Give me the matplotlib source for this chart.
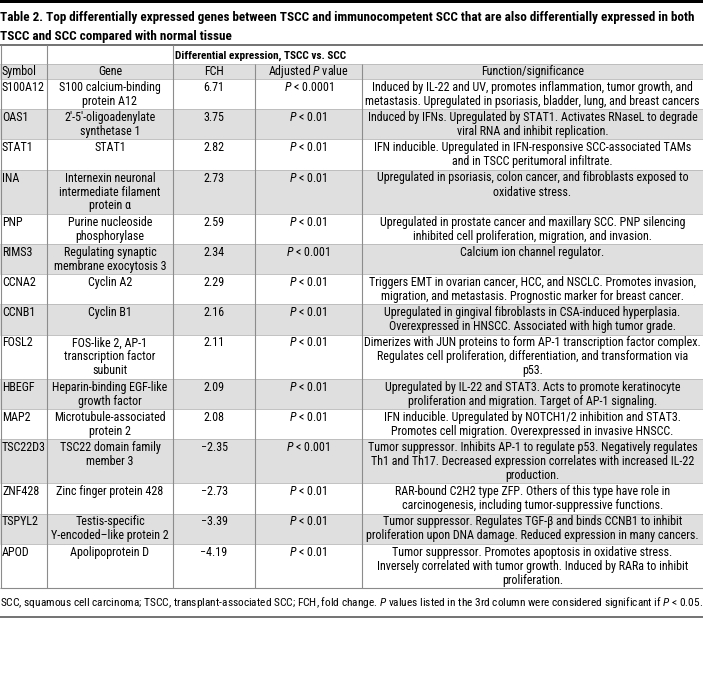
import matplotlib
matplotlib.use('Agg')
import matplotlib.pyplot as plt
from matplotlib import font_manager
from matplotlib.patches import Rectangle
from matplotlib.textpath import TextToPath

title_lines = ['Table 2. Top differentially expressed genes between TSCC and immunocompetent SCC that are also differentially expressed in both',
               'TSCC and SCC compared with normal tissue']
group_label = 'Differential expression, TSCC vs. SCC'
headers = ['Symbol', 'Gene', 'FCH', 'Adjusted $P$ value', 'Function/significance']

symbols = ['S100A12', 'OAS1', 'STAT1', 'INA', 'PNP', 'RIMS3', 'CCNA2', 'CCNB1',
           'FOSL2', 'HBEGF', 'MAP2', 'TSC22D3', 'ZNF428', 'TSPYL2', 'APOD']
genes = [['S100 calcium-binding', 'protein A12'],
         ['2\u2032-5\u2032-oligoadenylate', 'synthetase 1'],
         ['STAT1'],
         ['Internexin neuronal', 'intermediate filament', 'protein \u03b1'],
         ['Purine nucleoside', 'phosphorylase'],
         ['Regulating synaptic', 'membrane exocytosis 3'],
         ['Cyclin A2'],
         ['Cyclin B1'],
         ['FOS-like 2, AP-1', 'transcription factor', 'subunit'],
         ['Heparin-binding EGF-like', 'growth factor'],
         ['Microtubule-associated', 'protein 2'],
         ['TSC22 domain family', 'member 3'],
         ['Zinc finger protein 428'],
         ['Testis-specific', 'Y-encoded\u2013like protein 2'],
         ['Apolipoprotein D']]
fch = ['6.71', '3.75', '2.82', '2.73', '2.59', '2.34', '2.29', '2.16', '2.11', '2.09', '2.08',
       '\u22122.35', '\u22122.73', '\u22123.39', '\u22124.19']
pvals = ['0.0001', '0.01', '0.01', '0.01', '0.01', '0.001', '0.01', '0.01', '0.01', '0.01', '0.01',
         '0.001', '0.01', '0.01', '0.01']
functions = [['Induced by IL-22 and UV, promotes inflammation, tumor growth, and',
              'metastasis. Upregulated in psoriasis, bladder, lung, and breast cancers'],
             ['Induced by IFNs. Upregulated by STAT1. Activates RNaseL to degrade',
              'viral RNA and inhibit replication.'],
             ['IFN inducible. Upregulated in IFN-responsive SCC-associated TAMs',
              'and in TSCC peritumoral infiltrate.'],
             ['Upregulated in psoriasis, colon cancer, and fibroblasts exposed to',
              'oxidative stress.'],
             ['Upregulated in prostate cancer and maxillary SCC. PNP silencing',
              'inhibited cell proliferation, migration, and invasion.'],
             ['Calcium ion channel regulator.'],
             ['Triggers EMT in ovarian cancer, HCC, and NSCLC. Promotes invasion,',
              'migration, and metastasis. Prognostic marker for breast cancer.'],
             ['Upregulated in gingival fibroblasts in CSA-induced hyperplasia.',
              'Overexpressed in HNSCC. Associated with high tumor grade.'],
             ['Dimerizes with JUN proteins to form AP-1 transcription factor complex.',
              'Regulates cell proliferation, differentiation, and transformation via',
              'p53.'],
             ['Upregulated by IL-22 and STAT3. Acts to promote keratinocyte',
              'proliferation and migration. Target of AP-1 signaling.'],
             ['IFN inducible. Upregulated by NOTCH1/2 inhibition and STAT3.',
              'Promotes cell migration. Overexpressed in invasive HNSCC.'],
             ['Tumor suppressor. Inhibits AP-1 to regulate p53. Negatively regulates',
              'Th1 and Th17. Decreased expression correlates with increased IL-22',
              'production.'],
             ['RAR-bound C2H2 type ZFP. Others of this type have role in',
              'carcinogenesis, including tumor-suppressive functions.'],
             ['Tumor suppressor. Regulates TGF-\u03b2 and binds CCNB1 to inhibit',
              'proliferation upon DNA damage. Reduced expression in many cancers.'],
             ['Tumor suppressor. Promotes apoptosis in oxidative stress.',
              'Inversely correlated with tumor growth. Induced by RARa to inhibit',
              'proliferation.']]
footnote = ('SCC, squamous cell carcinoma; TSCC, transplant-associated SCC; FCH, fold change. '
            '$P$ values listed in the 3rd column were considered significant if $P$ < 0.05.')

W, H = 703, 679
cols = [0, 47, 173, 255, 362, 703]
LINE = 14.0
PAD = 2.2
GRAY = '#dfdfdf'
RULE = 45       # top rule of the table
HEAD2 = 64      # second header row (gray)
DATA = 79       # first data row

installed = {f.name for f in font_manager.fontManager.ttflist}
family = 'DejaVu Sans'
for f in ['Liberation Sans Narrow', 'Roboto Condensed', 'Roboto', 'Liberation Sans']:
    if f in installed:
        family = f
        break
plt.rcParams['font.family'] = [family, 'DejaVu Sans']
plt.rcParams['mathtext.fontset'] = 'custom'
plt.rcParams['mathtext.rm'] = family
plt.rcParams['mathtext.it'] = family + ':italic'
plt.rcParams['mathtext.bf'] = family + ':bold'

t2p = TextToPath()


def fit(text, width_px, weight='normal'):
    # font size (pt) at which text is width_px wide at 100 dpi
    prop = font_manager.FontProperties(family=family, size=10, weight=weight)
    w = t2p.get_text_width_height_descent(text, prop, ismath=False)[0]
    return 10 * width_px / (w * 100 / 72)


body = min(fit(l, 338) for f in functions for l in f)
title_fs = fit(title_lines[0], 690, 'bold')
group_fs = fit(group_label, 171, 'bold')
foot_fs = fit(footnote.replace('$', ''), 701)


def main():
    fig = plt.figure(figsize=(W / 100, H / 100), dpi=100)
    ax = fig.add_axes([0, 0, 1, 1])
    ax.set_xlim(0, W)
    ax.set_ylim(H, 0)
    ax.axis('off')

    ax.add_patch(Rectangle((0, 0), W, 3, color='black', lw=0))
    for i, t in enumerate(title_lines):
        ax.text(0, 21.5 + i * 18.5, t, fontsize=title_fs, fontweight='bold', va='baseline', ha='left')

    # header rows
    ax.text(cols[2] + 2, HEAD2 - 5, group_label, fontsize=group_fs, fontweight='bold', va='baseline')
    ax.add_patch(Rectangle((0, HEAD2), W, DATA - HEAD2, color=GRAY, lw=0))
    for j, h in enumerate(headers):
        if j == 0:
            ax.text(cols[0] + 2, DATA - 4, h, fontsize=body, va='baseline')
        else:
            ax.text((cols[j] + cols[j + 1]) / 2, DATA - 4, h, fontsize=body, va='baseline', ha='center')

    nlines = [max(len(g), len(f)) for g, f in zip(genes, functions)]
    tops = [DATA]
    for n in nlines:
        tops.append(tops[-1] + n * LINE + PAD)

    for i in range(len(symbols)):
        top = tops[i]
        if i % 2 == 1:
            ax.add_patch(Rectangle((0, top), W, tops[i + 1] - top, color=GRAY, lw=0))
        base = top + PAD / 2 + 10.8
        ax.text(cols[0] + 2, base, symbols[i], fontsize=body, va='baseline')
        for k, l in enumerate(genes[i]):
            ax.text((cols[1] + cols[2]) / 2, base + k * LINE, l, fontsize=body, va='baseline', ha='center')
        ax.text((cols[2] + cols[3]) / 2, base, fch[i], fontsize=body, va='baseline', ha='center')
        ax.text((cols[3] + cols[4]) / 2, base, '$P$ < ' + pvals[i], fontsize=body, va='baseline', ha='center')
        for k, l in enumerate(functions[i]):
            ax.text((cols[4] + cols[5]) / 2, base + k * LINE, l, fontsize=body, va='baseline', ha='center')

    bottom = tops[-1]
    ax.hlines(tops[:-1], 0, W, color='#b8b8b8', lw=0.6)
    ax.hlines(HEAD2, 0, W, color='#b8b8b8', lw=0.6)
    ax.hlines(bottom, 0, W, color='#8a8a8a', lw=0.8)
    ax.hlines(RULE, 0, W, color='#5a5a5a', lw=1.2)
    ax.vlines(cols[1:-1], HEAD2, bottom, color='#8c8c8c', lw=0.8)
    ax.vlines(cols[1:3], RULE, HEAD2, color='#8c8c8c', lw=0.8)
    ax.vlines(0.5, RULE, bottom, color='#8c8c8c', lw=0.8)

    ax.text(0, bottom + 18.5, footnote, fontsize=foot_fs, va='baseline', ha='left')
    ax.hlines(bottom + 28.5, 0, W, color='#5a5a5a', lw=1.2)

    fig.savefig('out.png', dpi=100)


if __name__ == '__main__':
    main()
